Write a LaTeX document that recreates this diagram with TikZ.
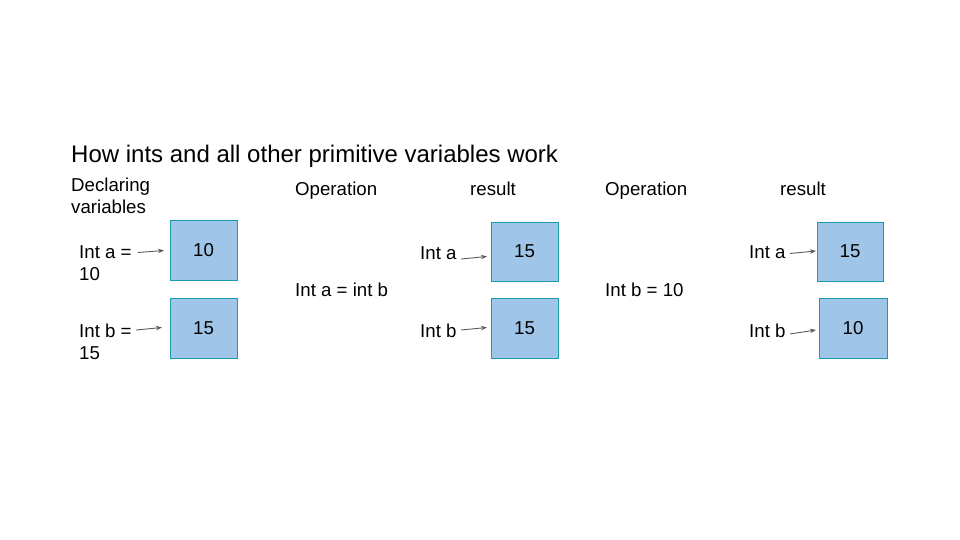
\documentclass[tikz,border=0pt]{standalone}
\usepackage{fontspec}
\setmainfont{Liberation Sans}
\usetikzlibrary{arrows.meta}
\definecolor{boxfill}{HTML}{9FC5E8}
\definecolor{boxline}{HTML}{1B9AAA}
\definecolor{arrgray}{HTML}{595959}
\tikzset{
  lbl/.style={anchor=base west,inner sep=0pt,font=\fontsize{18.67pt}{21.5pt}\selectfont},
  ml/.style={anchor=north west,inner sep=0pt,align=left,font=\fontsize{18.67pt}{21.5pt}\selectfont},
  ttl/.style={anchor=base west,inner sep=0pt,font=\fontsize{24pt}{28pt}\selectfont},
  cell/.style={draw=boxline,fill=boxfill,line width=1pt,inner sep=0pt,font=\fontsize{18.67pt}{21.5pt}\selectfont},
  arr/.style={draw=arrgray,line width=0.9pt,-{Stealth[length=6pt,width=4.5pt]}}
}
\begin{document}
\begin{tikzpicture}[x=1pt,y=-1pt]
\useasboundingbox (0,0) rectangle (960,540);
\node[ttl] (title) at (71,163) {How ints and all other primitive variables work};
\node[ml] (decl) at (71,178) {Declaring\\variables};
\node[lbl] (op1) at (295,195) {Operation};
\node[lbl] (res1) at (470,195) {result};
\node[lbl] (op2) at (605,195) {Operation};
\node[lbl] (res2) at (780,195) {result};
\node[lbl] (opa) at (295,296) {Int a = int b};
\node[lbl] (opb) at (605,296) {Int b = 10};
% column 1
\node[ml] (la1) at (79,245.5) {Int a =\\10};
\node[ml] (lb1) at (79,324) {Int b =\\15};
\node[cell,minimum width=67pt,minimum height=60pt] (a1) at (203.5,250.5) {10};
\node[cell,minimum width=67pt,minimum height=60pt] (b1) at (203.5,328) {15};
% column 2
\node[lbl] (la2) at (420,259.5) {Int a};
\node[lbl] (lb2) at (420,337.5) {Int b};
\node[cell,minimum width=67pt,minimum height=59pt] (a2) at (524.5,251.5) {15};
\node[cell,minimum width=67pt,minimum height=60pt] (b2) at (524.5,328) {15};
% column 3
\node[lbl] (la3) at (749,258.5) {Int a};
\node[lbl] (lb3) at (749,337.5) {Int b};
\node[cell,minimum width=66pt,minimum height=59pt] (a3) at (850,251.5) {15};
\node[cell,minimum width=68pt,minimum height=60pt] (b3) at (853,328) {10};
% arrows
\coordinate (s1) at (138,252.5); \coordinate (e1) at (164,250.5);
\coordinate (s2) at (136,330); \coordinate (e2) at (162,327.5);
\coordinate (s3) at (461,259); \coordinate (e3) at (487,256.5);
\coordinate (s4) at (461,330); \coordinate (e4) at (487,327.5);
\coordinate (s5) at (790,253.5); \coordinate (e5) at (816,251);
\coordinate (s6) at (790,334); \coordinate (e6) at (816,330);
\draw[arr] (s1) -- (e1);
\draw[arr] (s2) -- (e2);
\draw[arr] (s3) -- (e3);
\draw[arr] (s4) -- (e4);
\draw[arr] (s5) -- (e5);
\draw[arr] (s6) -- (e6);
\end{tikzpicture}
\end{document}
